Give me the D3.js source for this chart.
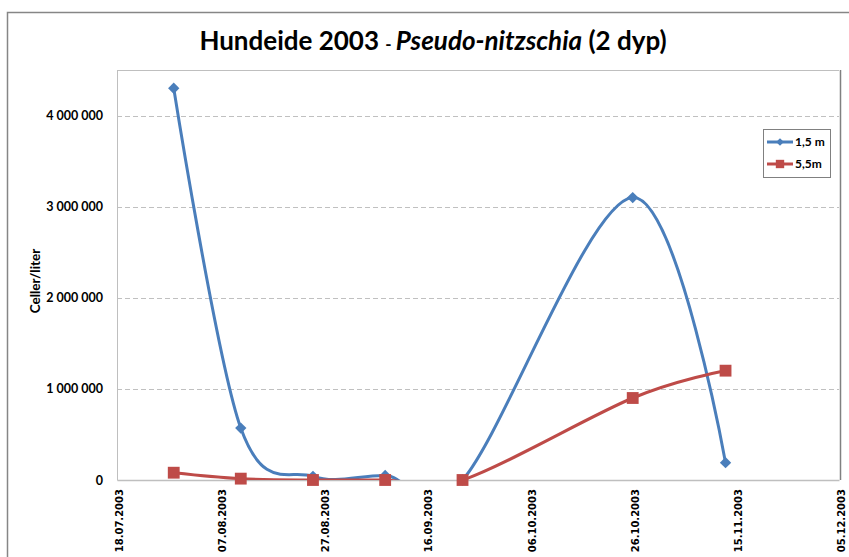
<!DOCTYPE html>
<html>
<head>
<meta charset="utf-8">
<script src="https://cdn.jsdelivr.net/npm/d3@7"></script>
<style>
  body { margin: 0; background: #fff; }
  svg { display: block; }
</style>
</head>
<body>
<script>
'use strict';

// sampling dates and cell counts (celler/liter)
const dates = ['29.07.2003', '11.08.2003', '25.08.2003', '08.09.2003', '23.09.2003', '26.10.2003', '13.11.2003'];
const depth15 = [4300000, 570000, 40000, 50000, 0, 3100000, 190000];
const depth55 = [80000, 15000, 0, 0, 0, 900000, 1200000];
const seriesNames = ['1,5 m', '5,5m'];
const xTickLabels = ['18.07.2003', '07.08.2003', '27.08.2003', '16.09.2003', '06.10.2003', '26.10.2003', '15.11.2003', '05.12.2003'];
const yTicks = [0, 1000000, 2000000, 3000000, 4000000];

const W = 849, H = 557;
const plot = { left: 117, right: 839, top: 70, bottom: 480 };
const colors = ['#4A7EBB', '#BE4B48'];

const parse = d3.timeParse('%d.%m.%Y');

let svg = d3.select('body').append('svg').attr('width', W).attr('height', H);

// outer chart border
svg.append('rect')
  .attr('x', 7.5).attr('y', 12.5).attr('width', 900).attr('height', 600)
  .attr('fill', 'none').attr('stroke', '#868686').attr('stroke-width', 1.5);

let xScale = d3.scaleTime()
  .domain([parse(xTickLabels[0]), parse(xTickLabels[xTickLabels.length - 1])])
  .range([plot.left, plot.right]);
let yScale = d3.scaleLinear()
  .domain([0, 4500000])
  .range([plot.bottom, plot.top]);

// gridlines
svg.append('g').selectAll('line')
  .data(yTicks.slice(1))
  .enter().append('line')
  .attr('x1', plot.left).attr('x2', plot.right)
  .attr('y1', (d) => Math.round(yScale(d)) + 0.5).attr('y2', (d) => Math.round(yScale(d)) + 0.5)
  .attr('stroke', '#c0c0c0').attr('stroke-dasharray', '5,3');

// plot area border
svg.append('line').attr('x1', plot.left).attr('x2', plot.right).attr('y1', plot.top + 0.5).attr('y2', plot.top + 0.5).attr('stroke', '#bfbfbf');
svg.append('line').attr('x1', plot.right + 1.5).attr('x2', plot.right + 1.5).attr('y1', plot.top).attr('y2', plot.bottom).attr('stroke', '#808080').attr('stroke-width', 1.5);

// axes
let yAxis = d3.axisLeft(yScale)
  .tickValues(yTicks)
  .tickSize(0)
  .tickPadding(14)
  .tickFormat((d) => d3.format(',')(d).replace(/,/g, ' '));
let yg = svg.append('g').attr('transform', 'translate(' + plot.left + ',0)').call(yAxis);
yg.select('.domain').attr('stroke', '#bfbfbf');
yg.selectAll('text').attr('font-family', 'Lato, sans-serif').attr('font-weight', 'bold').attr('font-size', 12.5).attr('fill', '#000');

let xAxis = d3.axisBottom(xScale)
  .tickValues(xTickLabels.map(parse))
  .tickSize(0)
  .tickFormat(d3.timeFormat('%d.%m.%Y'));
let xg = svg.append('g').attr('transform', 'translate(0,' + plot.bottom + ')').call(xAxis);
xg.select('.domain').attr('stroke', '#bfbfbf').attr('stroke-width', 1.5);
xg.selectAll('text')
  .attr('font-family', 'DejaVu Sans, sans-serif').attr('font-weight', 'bold').attr('font-size', 10).attr('fill', '#000')
  .attr('text-anchor', 'end')
  .attr('dy', '0.35em')
  .attr('transform', 'translate(2,9) rotate(-90)')
  .attr('x', 0).attr('y', 0);

// y axis title
svg.append('text')
  .attr('transform', 'translate(40,281) rotate(-90)')
  .attr('text-anchor', 'middle')
  .attr('font-family', 'Lato, sans-serif').attr('font-weight', 'bold').attr('font-size', 13.5)
  .text('Celler/liter');

// chart title
let title = svg.append('text')
  .attr('x', 433).attr('y', 50)
  .attr('text-anchor', 'middle')
  .attr('font-family', 'Lato, sans-serif').attr('font-weight', 'bold').attr('font-size', 26);
title.append('tspan').text('Hundeide 2003 ');
title.append('tspan').attr('font-size', 17).text('- ');
title.append('tspan').attr('font-style', 'italic').text('Pseudo-nitzschia');
title.append('tspan').text(' (2 dyp)');

// clip lines to plot area
svg.append('clipPath').attr('id', 'clip')
  .append('rect').attr('x', plot.left).attr('y', plot.top).attr('width', plot.right - plot.left).attr('height', plot.bottom - plot.top);

let series = [depth15, depth55].map((vals, i) => ({
  name: seriesNames[i],
  color: colors[i],
  points: vals.map((v, j) => ({ date: parse(dates[j]), value: v }))
}));

let line = d3.line()
  .x((d) => xScale(d.date))
  .y((d) => yScale(d.value))
  .curve(d3.curveCardinal.tension(0));

// diamond = square turned 45 degrees, like Excel's marker
function marker(i, size) {
  return d3.symbol().type(d3.symbolSquare).size(size)();
}

let marks = svg.append('g');
series.forEach((s, i) => {
  let g = marks.append('g');
  g.append('path')
    .datum(s.points)
    .attr('d', line)
    .attr('clip-path', 'url(#clip)')
    .attr('fill', 'none')
    .attr('stroke', s.color)
    .attr('stroke-width', 3)
    .attr('stroke-linejoin', 'round');
  g.selectAll('path.pt')
    .data(s.points)
    .enter().append('path')
    .attr('class', 'pt')
    .attr('d', marker(i, i === 0 ? 64 : 140))
    .attr('transform', (d) => 'translate(' + xScale(d.date) + ',' + yScale(d.value) + ')' + (i === 0 ? ' rotate(45)' : ''))
    .attr('fill', s.color);
});

// legend
let legend = svg.append('g').attr('transform', 'translate(763,129)');
legend.append('rect')
  .attr('x', 0.5).attr('y', 0.5).attr('width', 67).attr('height', 48)
  .attr('fill', '#fff').attr('stroke', '#808080');
series.forEach((s, i) => {
  let row = legend.append('g').attr('transform', 'translate(0,' + (13 + i * 22) + ')');
  row.append('line').attr('x1', 4).attr('x2', 30).attr('y1', 0).attr('y2', 0)
    .attr('stroke', s.color).attr('stroke-width', 3);
  row.append('path')
    .attr('d', marker(i, i === 0 ? 30 : 70))
    .attr('transform', 'translate(17,0)' + (i === 0 ? ' rotate(45)' : ''))
    .attr('fill', s.color);
  row.append('text')
    .attr('x', 32).attr('y', 0).attr('dy', '0.35em')
    .attr('font-family', 'Lato, sans-serif').attr('font-weight', 'bold').attr('font-size', 12)
    .text(s.name);
});
</script>
</body>
</html>
